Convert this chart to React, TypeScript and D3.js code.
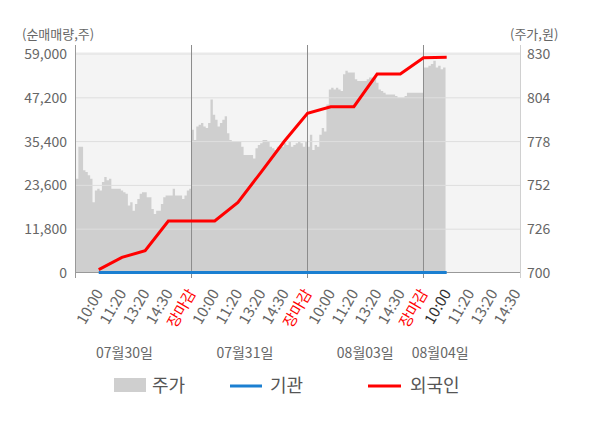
import React, { useEffect, useRef } from "react";
import * as d3 from "d3";

/* ── 데이터 ── */
const dateLabels = ["07월30일", "07월31일", "08월03일", "08월04일"];
const timeLabels = [
  "10:00", "11:20", "13:20", "14:30", "장마감",
  "10:00", "11:20", "13:20", "14:30", "장마감",
  "10:00", "11:20", "13:20", "14:30", "장마감",
  "10:00", "11:20", "13:20", "14:30",
];
const leftTicks = [0, 11800, 23600, 35400, 47200, 59000];
const rightTicks = [700, 726, 752, 778, 804, 830];

// 외국인 / 기관 누적 순매매량 (슬롯 0..15)
const foreignNet = [900, 4200, 6000, 14000, 14000, 14000, 19000, 27200, 35500, 43000, 44800, 44800, 53600, 53600, 58000, 58100];
const instNet = [0, 0, 0, 0, 0, 0, 0, 0, 0, 0, 0, 0, 0, 0, 0, 0];

// 주가 (일별 장중)
const price0730 = [
  756, 775, 775, 761, 760, 758, 756, 742, 749, 750,
  749, 754, 757, 755, 756, 750, 750, 750, 750, 749,
  748, 747, 740, 742, 737, 741, 744, 747, 748, 748,
  745, 745, 738, 735, 737, 737, 741, 745, 746, 746,
  746, 750, 746, 746, 746, 744, 746, 749, 750, 752,
];
const price0731 = [
  785, 779, 787, 788, 789, 787, 786, 789, 803, 794,
  791, 787, 789, 791, 793, 783, 779, 778, 778, 778,
  778, 775, 770, 770, 770, 770, 768, 774, 776, 777,
  779, 779, 778, 775, 774, 773, 775, 775, 775, 777,
  776, 778, 775, 776, 777, 778, 777, 775, 778, 776,
];
const price0803 = [
  775, 782, 773, 776, 775, 782, 786, 784, 800, 809,
  810, 809, 810, 809, 808, 818, 820, 819, 819, 819,
  815, 814, 814, 814, 814, 815, 816, 816, 816, 813,
  809, 808, 807, 806, 806, 806, 806, 805, 804, 804,
  804, 805, 807, 807, 807, 807, 807, 807, 807, 807,
];
const price0804 = [822, 822, 823, 824, 826, 822, 823, 821, 822, 825];

const priceDays = [price0730, price0731, price0803, price0804];
const dayStartSlot = [-0.98, 4, 9, 14];
const dayEndSlot = [4, 9, 14, 14.95];
const dateLabelSlot = [1.11, 6.3, 11.49, 14.72];

const FONT = "'Noto Sans CJK KR', 'Noto Sans', sans-serif";

const App: React.FC = () => {
  const svgRef = useRef<SVGSVGElement | null>(null);

  useEffect(() => {
    if (!svgRef.current) return;
    const svg = d3.select(svgRef.current);
    svg.selectAll("*").remove();

    const L = 76, R = 520, T = 54, B = 273;
    const x = d3.scaleLinear().domain([-0.98, 18.16]).range([L, R]);
    const yL = d3.scaleLinear().domain([0, 59000]).range([B, T]);
    const yR = d3.scaleLinear().domain([700, 830]).range([B, T]);

    // 배경
    svg.append("rect")
      .attr("x", L).attr("y", 52).attr("width", R - L).attr("height", B - 52)
      .attr("fill", "#f4f4f4");

    // 주가 영역
    const pts: { k: number; p: number }[] = [];
    priceDays.forEach((arr, d) => {
      arr.forEach((p, i) => {
        const k = dayStartSlot[d] + ((dayEndSlot[d] - dayStartSlot[d]) * i) / (arr.length - 1);
        pts.push({ k, p });
      });
    });
    const area = d3.area<{ k: number; p: number }>()
      .x((d) => x(d.k))
      .y0(B)
      .y1((d) => yR(d.p))
      .curve(d3.curveStepAfter);
    svg.append("path").datum(pts).attr("d", area).attr("fill", "#cfcfcf");

    // 격자
    svg.selectAll(".grid")
      .data(leftTicks.slice(1))
      .enter()
      .append("line")
      .attr("x1", L).attr("x2", R)
      .attr("y1", (d) => yL(d)).attr("y2", (d) => yL(d))
      .attr("stroke", "#dedede").attr("stroke-width", 1);

    // 바닥선
    svg.append("line")
      .attr("x1", L).attr("x2", R).attr("y1", B - 0.5).attr("y2", B - 0.5)
      .attr("stroke", "#999");

    // 일자 구분선 + 축선
    [4, 9, 14].forEach((k) => {
      svg.append("line")
        .attr("x1", x(k)).attr("x2", x(k)).attr("y1", 45).attr("y2", 278)
        .attr("stroke", "#8c8c8c");
    });
    svg.append("line")
      .attr("x1", L - 0.5).attr("x2", L - 0.5).attr("y1", 45).attr("y2", 278)
      .attr("stroke", "#999");
    svg.append("line")
      .attr("x1", R + 0.5).attr("x2", R + 0.5).attr("y1", 45).attr("y2", 278)
      .attr("stroke", "#d0d0d0");

    // 기관 / 외국인
    const line = d3.line<number>()
      .x((_, i) => x(i))
      .y((d) => yL(d));
    svg.append("path").datum(instNet).attr("d", line)
      .attr("fill", "none").attr("stroke", "#1b7fd1").attr("stroke-width", 3)
      .attr("transform", "translate(0,-0.5)");
    svg.append("path").datum(foreignNet).attr("d", line)
      .attr("fill", "none").attr("stroke", "#ff0000").attr("stroke-width", 3);

    // 좌측 라벨
    svg.selectAll(".ly")
      .data(leftTicks)
      .enter()
      .append("text")
      .attr("x", 67).attr("y", (d) => yL(d)).attr("dy", "0.35em")
      .attr("text-anchor", "end")
      .attr("font-size", 14).attr("font-family", FONT).attr("fill", "#666")
      .text((d) => d3.format(",")(d));

    // 우측 라벨
    svg.selectAll(".ry")
      .data(rightTicks)
      .enter()
      .append("text")
      .attr("x", 527).attr("y", (d) => yR(d)).attr("dy", "0.35em")
      .attr("font-size", 14).attr("font-family", FONT).attr("fill", "#666")
      .text((d) => d);

    // 축 제목
    svg.append("text").attr("x", 22).attr("y", 39)
      .attr("font-size", 13).attr("font-family", FONT).attr("fill", "#666")
      .text("(순매매량,주)");
    svg.append("text").attr("x", 510).attr("y", 39)
      .attr("font-size", 13).attr("font-family", FONT).attr("fill", "#666")
      .text("(주가,원)");

    // 시간 라벨
    svg.selectAll(".tx")
      .data(timeLabels)
      .enter()
      .append("text")
      .attr("transform", (_, i) => `translate(${x(i) + 5},293) rotate(-60)`)
      .attr("text-anchor", "end")
      .attr("font-size", 15).attr("font-family", FONT)
      .attr("fill", (d, i) => (d === "장마감" ? "#ff0000" : i === 15 ? "#333" : "#666"))
      .text((d) => d);

    // 날짜 라벨
    svg.selectAll(".dx")
      .data(dateLabels)
      .enter()
      .append("text")
      .attr("x", (_, i) => x(dateLabelSlot[i])).attr("y", 358)
      .attr("text-anchor", "middle")
      .attr("font-size", 14).attr("font-family", FONT).attr("fill", "#666")
      .text((d) => d);

    // 범례
    const lg = svg.append("g").attr("font-family", FONT).attr("font-size", 18).attr("fill", "#555");
    lg.append("rect").attr("x", 114).attr("y", 378).attr("width", 32).attr("height", 14).attr("fill", "#cfcfcf");
    lg.append("text").attr("x", 152).attr("y", 392).text("주가");
    lg.append("line").attr("x1", 230).attr("x2", 262).attr("y1", 386).attr("y2", 386)
      .attr("stroke", "#1b7fd1").attr("stroke-width", 3);
    lg.append("text").attr("x", 270).attr("y", 392).text("기관");
    lg.append("line").attr("x1", 368).attr("x2", 401).attr("y1", 386).attr("y2", 386)
      .attr("stroke", "#ff0000").attr("stroke-width", 3);
    lg.append("text").attr("x", 410).attr("y", 392).text("외국인");
  }, []);

  return (
    <svg
      ref={svgRef}
      width={600}
      height={428}
      style={{ position: "absolute", left: 0, top: 0, background: "#fff" }}
    />
  );
};

export default App;
